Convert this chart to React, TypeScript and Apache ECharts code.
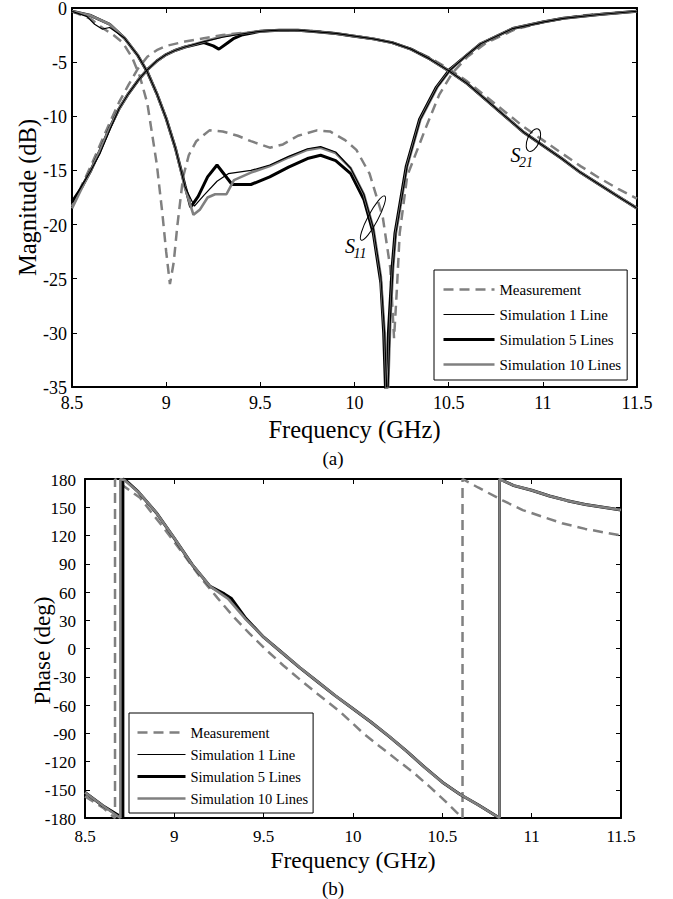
import React, { useEffect, useRef } from "react";
import * as echarts from "echarts";

const FONT = "Liberation Serif";
const GRAY = "#808080";

// ---- tick values ----
const freqTicks = [8.5, 9, 9.5, 10, 10.5, 11, 11.5];
const magTicks = [0, -5, -10, -15, -20, -25, -30, -35];
const phaseTicks = [180, 150, 120, 90, 60, 30, 0, -30, -60, -90, -120, -150, -180];

// ---- (a) Magnitude data: [GHz, dB] ----
const s11Meas = [[8.5,-0.3],[8.6,-1.0],[8.65,-1.7],[8.72,-2.5],[8.77,-3.2],[8.82,-4.6],[8.86,-6.3],[8.9,-8.8],[8.95,-14.4],[8.98,-19.0],[9.0,-22.5],[9.02,-25.5],[9.04,-23.5],[9.06,-20.0],[9.09,-15.6],[9.12,-13.6],[9.16,-12.3],[9.23,-11.3],[9.3,-11.4],[9.38,-11.8],[9.45,-12.3],[9.55,-12.9],[9.62,-12.6],[9.7,-11.8],[9.8,-11.3],[9.87,-11.4],[9.95,-12.2],[10.01,-13.1],[10.08,-15.3],[10.15,-19.3],[10.19,-24.0],[10.21,-30.5],[10.225,-26.0],[10.24,-20.8],[10.28,-15.5],[10.38,-11.0],[10.45,-8.0],[10.52,-6.0],[10.6,-4.5],[10.7,-3.2],[10.85,-2.0],[11.0,-1.3],[11.2,-0.7],[11.5,-0.3]];
const s11Sim1 = [[8.5,-0.3],[8.58,-0.8],[8.62,-1.5],[8.66,-1.95],[8.7,-1.8],[8.78,-2.8],[8.85,-4.4],[8.9,-5.9],[8.95,-7.9],[9.0,-10.2],[9.05,-13.0],[9.1,-16.5],[9.15,-18.3],[9.2,-17.3],[9.27,-16.0],[9.33,-15.3],[9.45,-15.0],[9.55,-14.5],[9.65,-13.7],[9.75,-13.0],[9.82,-12.8],[9.9,-13.3],[9.98,-14.8],[10.05,-17.2],[10.1,-20.3],[10.14,-24.8],[10.16,-30.0],[10.175,-37.0],[10.19,-29.0],[10.205,-24.0],[10.22,-20.8],[10.28,-14.6],[10.35,-10.3],[10.44,-7.3],[10.51,-5.7],[10.6,-4.3],[10.67,-3.3],[10.84,-1.9],[11.0,-1.3],[11.11,-0.95],[11.3,-0.6],[11.5,-0.3]];
const s11Sim5 = [[8.5,-0.3],[8.6,-0.7],[8.7,-1.5],[8.78,-2.8],[8.85,-4.4],[8.9,-5.9],[8.95,-7.9],[9.0,-10.2],[9.05,-13.0],[9.1,-16.4],[9.13,-18.4],[9.17,-17.4],[9.22,-15.6],[9.27,-14.5],[9.31,-15.4],[9.35,-16.3],[9.45,-16.3],[9.55,-15.6],[9.65,-14.7],[9.75,-13.9],[9.82,-13.6],[9.9,-14.1],[9.98,-15.3],[10.05,-17.7],[10.1,-20.8],[10.14,-25.4],[10.155,-30.0],[10.168,-37.0],[10.18,-30.0],[10.2,-23.9],[10.215,-20.8],[10.275,-14.6],[10.345,-10.3],[10.435,-7.3],[10.505,-5.7],[10.6,-4.3],[10.67,-3.3],[10.84,-1.9],[11.0,-1.3],[11.11,-0.95],[11.3,-0.6],[11.5,-0.3]];
const s11Sim10 = [[8.5,-0.3],[8.6,-0.7],[8.7,-1.5],[8.78,-2.8],[8.85,-4.4],[8.9,-5.9],[8.95,-7.9],[9.0,-10.2],[9.05,-13.0],[9.1,-16.6],[9.145,-19.1],[9.18,-18.6],[9.22,-17.5],[9.26,-17.2],[9.32,-17.2],[9.36,-15.9],[9.45,-15.2],[9.55,-14.6],[9.65,-13.8],[9.75,-13.1],[9.82,-12.9],[9.9,-13.4],[9.98,-14.8],[10.05,-17.2],[10.1,-20.3],[10.14,-24.8],[10.16,-30.0],[10.175,-37.0],[10.19,-29.0],[10.205,-24.0],[10.22,-20.8],[10.28,-14.6],[10.35,-10.3],[10.44,-7.3],[10.51,-5.7],[10.6,-4.3],[10.67,-3.3],[10.84,-1.9],[11.0,-1.3],[11.11,-0.95],[11.3,-0.6],[11.5,-0.3]];

const s21Meas = [[8.5,-18.3],[8.6,-14.6],[8.7,-10.6],[8.75,-8.7],[8.8,-7.1],[8.85,-5.6],[8.9,-4.5],[8.95,-3.9],[9.0,-3.5],[9.1,-3.1],[9.2,-2.8],[9.3,-2.5],[9.4,-2.3],[9.5,-2.15],[9.6,-2.05],[9.7,-2.05],[9.8,-2.15],[9.9,-2.35],[10.0,-2.6],[10.1,-2.85],[10.2,-3.2],[10.3,-3.8],[10.4,-4.6],[10.5,-5.6],[10.6,-6.8],[10.7,-8.2],[10.8,-9.6],[10.9,-11.0],[11.0,-12.2],[11.1,-13.4],[11.2,-14.6],[11.3,-15.7],[11.4,-16.7],[11.5,-17.6]];
const s21Sim1 = [[8.5,-18.0],[8.55,-16.5],[8.6,-15.0],[8.65,-13.4],[8.7,-11.3],[8.75,-9.3],[8.8,-7.9],[8.85,-6.7],[8.9,-5.7],[8.95,-4.9],[9.0,-4.3],[9.05,-3.9],[9.1,-3.6],[9.2,-3.1],[9.3,-2.7],[9.4,-2.4],[9.5,-2.15],[9.6,-2.05],[9.7,-2.05],[9.8,-2.2],[9.9,-2.35],[10.0,-2.6],[10.1,-2.85],[10.2,-3.2],[10.3,-3.8],[10.4,-4.7],[10.5,-5.8],[10.6,-7.0],[10.7,-8.5],[10.8,-10.0],[10.9,-11.5],[11.0,-12.7],[11.1,-13.9],[11.2,-15.2],[11.3,-16.3],[11.4,-17.4],[11.5,-18.5]];
const s21Sim5 = [[8.5,-17.9],[8.55,-16.6],[8.6,-15.0],[8.65,-13.1],[8.7,-11.1],[8.75,-9.3],[8.8,-7.9],[8.85,-6.7],[8.9,-5.7],[8.95,-4.9],[9.0,-4.3],[9.05,-3.9],[9.1,-3.6],[9.2,-3.2],[9.25,-3.5],[9.28,-3.8],[9.32,-3.3],[9.36,-2.8],[9.4,-2.5],[9.5,-2.15],[9.6,-2.05],[9.7,-2.05],[9.8,-2.2],[9.9,-2.35],[10.0,-2.6],[10.1,-2.85],[10.2,-3.2],[10.3,-3.8],[10.4,-4.7],[10.5,-5.8],[10.6,-7.0],[10.7,-8.5],[10.8,-10.0],[10.9,-11.5],[11.0,-12.7],[11.1,-13.9],[11.2,-15.2],[11.3,-16.3],[11.4,-17.4],[11.5,-18.5]];
const s21Sim10 = [[8.5,-18.5],[8.55,-16.7],[8.6,-15.0],[8.65,-13.1],[8.7,-11.1],[8.75,-9.3],[8.8,-7.9],[8.85,-6.7],[8.9,-5.7],[8.95,-4.9],[9.0,-4.3],[9.05,-3.9],[9.1,-3.6],[9.2,-3.1],[9.3,-2.6],[9.4,-2.35],[9.5,-2.15],[9.6,-2.05],[9.7,-2.05],[9.8,-2.2],[9.9,-2.35],[10.0,-2.6],[10.1,-2.85],[10.2,-3.2],[10.3,-3.8],[10.4,-4.7],[10.5,-5.8],[10.6,-7.0],[10.7,-8.5],[10.8,-10.0],[10.9,-11.5],[11.0,-12.7],[11.1,-13.9],[11.2,-15.2],[11.3,-16.3],[11.4,-17.4],[11.5,-18.5]];

// ---- (b) Phase data: [GHz, deg] ----
const phMeas = [[8.5,-157],[8.6,-169],[8.668,-180],[8.668,180],[8.72,172],[8.808,160],[8.92,133],[9.032,105],[9.144,76],[9.24,54],[9.33,34],[9.42,16],[9.517,-2],[9.61,-18],[9.703,-33],[9.8,-48],[9.927,-67],[10.057,-90],[10.15,-104],[10.244,-118],[10.34,-132],[10.43,-147],[10.51,-161],[10.58,-174],[10.613,-180],[10.613,180],[10.7,171],[10.84,157],[10.95,147],[11.06,140],[11.17,133],[11.3,127],[11.5,120]];
const phSim1 = [[8.5,-153],[8.6,-167],[8.705,-180],[8.705,180],[8.72,179],[8.8,166],[8.9,144],[9.0,117],[9.1,89],[9.2,66],[9.3,54],[9.4,32],[9.5,12],[9.6,-4],[9.7,-20],[9.8,-35],[9.9,-50],[10.0,-64],[10.1,-78],[10.2,-93],[10.3,-109],[10.4,-126],[10.5,-142],[10.6,-155],[10.7,-166],[10.82,-180],[10.82,180],[10.9,173],[11.0,168],[11.1,162],[11.2,157],[11.3,153],[11.4,150],[11.5,147]];
const phSim5 = [[8.5,-153],[8.6,-167],[8.712,-180],[8.712,180],[8.725,179],[8.8,166],[8.9,144],[9.0,117],[9.1,89],[9.2,66],[9.28,58],[9.32,53],[9.4,32],[9.5,12],[9.6,-4],[9.7,-20],[9.8,-35],[9.9,-50],[10.0,-64],[10.1,-78],[10.2,-93],[10.3,-109],[10.4,-126],[10.5,-142],[10.6,-155],[10.7,-166],[10.82,-180],[10.82,180],[10.9,173],[11.0,168],[11.1,162],[11.2,157],[11.3,153],[11.4,150],[11.5,147]];
const phSim10 = [[8.5,-153],[8.6,-167],[8.698,-180],[8.698,180],[8.72,179],[8.8,166],[8.9,144],[9.0,117],[9.1,89],[9.2,66],[9.3,53],[9.4,31],[9.5,12],[9.6,-4],[9.7,-20],[9.8,-35],[9.9,-50],[10.0,-64],[10.1,-78],[10.2,-93],[10.3,-109],[10.4,-126],[10.5,-142],[10.6,-155],[10.7,-166],[10.82,-180],[10.82,180],[10.9,173],[11.0,168],[11.1,162],[11.2,157],[11.3,153],[11.4,150],[11.5,147]];

const NAMES = ["Measurement", "Simulation 1 Line", "Simulation 5 Lines", "Simulation 10 Lines"];
const LINE: Record<string, any> = {
  "Measurement": { color: GRAY, width: 2.5, type: [10, 6] },
  "Simulation 1 Line": { color: "#000", width: 1.2, type: "solid" },
  "Simulation 5 Lines": { color: "#000", width: 3, type: "solid" },
  "Simulation 10 Lines": { color: GRAY, width: 2.6, type: "solid" },
};
const ZORD: Record<string, number> = { "Measurement": 1, "Simulation 1 Line": 2, "Simulation 5 Lines": 3, "Simulation 10 Lines": 4 };

function mk(name: string, data: number[][], ai: number, z?: number) {
  const ls = LINE[name];
  return {
    type: "line", name, data, xAxisIndex: ai, yAxisIndex: ai,
    symbol: "none", showSymbol: false, clip: true, z: z ?? ZORD[name],
    color: ls.color,
    lineStyle: { color: ls.color, width: ls.width, type: ls.type },
    itemStyle: { color: ls.color },
    emphasis: { disabled: true },
  };
}

function xAx(grid: number, pos: string) {
  return {
    type: "value", gridIndex: grid, position: pos, min: 8.5, max: 11.5, interval: 0.5,
    axisLine: { show: true, onZero: false, lineStyle: { color: "#000", width: 2 } },
    axisTick: { show: true, inside: true, length: 5, lineStyle: { color: "#000", width: 1 } },
    splitLine: { show: false },
    axisLabel: { show: false },
  };
}
function yAx(grid: number, pos: string, min: number, max: number, interval: number) {
  return {
    type: "value", gridIndex: grid, position: pos, min, max, interval,
    axisLine: { show: true, onZero: false, lineStyle: { color: "#000", width: 2 } },
    axisTick: { show: true, inside: true, length: 5, lineStyle: { color: "#000", width: 1 } },
    splitLine: { show: false },
    axisLabel: { show: false },
  };
}

function legendData() {
  return NAMES.map((n) => ({ name: n, itemStyle: { opacity: 0 }, lineStyle: { color: LINE[n].color, width: LINE[n].width, type: LINE[n].type } }));
}

// annotation anchors in data coordinates of plot (a)
const ANNOT = {
  s21Ellipse: [10.95, -12.2], s21S: [10.855, -13.62], s21Sub: [10.911, -14.25],
  s11Ellipse: [10.098, -19.4], s11S: [9.976, -21.98], s11Sub: [10.029, -22.65],
};

function T(x: number, y: number, text: string, size: number, align = "center", extra: any = {}) {
  return {
    type: "text", x, y, z: 100, silent: true, ...extra,
    style: { text, fontFamily: FONT, fontSize: size, fill: "#000", align, verticalAlign: "middle", ...(extra.style || {}) },
  };
}

export default function App() {
  const ref = useRef<HTMLDivElement>(null);
  useEffect(() => {
    document.body.style.margin = "0";
    const chart = echarts.init(ref.current!, null, { renderer: "svg" });
    chart.setOption({
      animation: false,
      backgroundColor: "#fff",
      textStyle: { fontFamily: FONT },
      grid: [
        { left: 72, top: 8, width: 565, height: 379 },
        { left: 85, top: 479, width: 536, height: 339 },
      ],
      xAxis: [xAx(0, "bottom"), xAx(0, "top"), xAx(1, "bottom"), xAx(1, "top")],
      yAxis: [
        yAx(0, "left", -35, 0, 5), yAx(0, "right", -35, 0, 5),
        yAx(1, "left", -180, 180, 30), yAx(1, "right", -180, 180, 30),
      ],
      legend: [
        {
          data: legendData(), orient: "vertical", left: 434, top: 270,
          itemWidth: 51, itemHeight: 14, itemGap: 10, padding: [12, 6, 8, 8],
          borderColor: "#000", borderWidth: 1, backgroundColor: "#fff", selectedMode: false,
          textStyle: { fontFamily: FONT, fontSize: 15, color: "#000" },
        },
        {
          data: legendData(), orient: "vertical", left: 129, top: 713,
          itemWidth: 48, itemHeight: 14, itemGap: 7, padding: [12, 5, 7, 7],
          borderColor: "#000", borderWidth: 1, backgroundColor: "#fff", selectedMode: false,
          textStyle: { fontFamily: FONT, fontSize: 14.5, color: "#000" },
        },
      ],
      series: [
        mk("Measurement", s11Meas, 0), mk("Measurement", s21Meas, 0),
        mk("Simulation 1 Line", s11Sim1, 0, 5), mk("Simulation 1 Line", s21Sim1, 0, 5),
        mk("Simulation 5 Lines", s11Sim5, 0), mk("Simulation 5 Lines", s21Sim5, 0),
        mk("Simulation 10 Lines", s11Sim10, 0), mk("Simulation 10 Lines", s21Sim10, 0),
        mk("Measurement", phMeas, 2),
        mk("Simulation 1 Line", phSim1, 2),
        mk("Simulation 5 Lines", phSim5, 2),
        mk("Simulation 10 Lines", phSim10, 2),
      ],
    });

    const PA = (v: number[]) => chart.convertToPixel({ xAxisIndex: 0, yAxisIndex: 0 } as any, v) as number[];
    const PB = (v: number[]) => chart.convertToPixel({ xAxisIndex: 2, yAxisIndex: 2 } as any, v) as number[];
    const gfx: any[] = [];

    // plot (a) tick labels and titles
    const aBottom = PA([8.5, -35])[1], aTop = PA([8.5, 0])[1], aLeft = PA([8.5, 0])[0], aRight = PA([11.5, 0])[0];
    freqTicks.forEach((f) => gfx.push(T(PA([f, -35])[0], aBottom + 16, String(f), 18)));
    magTicks.forEach((m) => gfx.push(T(aLeft - 5, PA([8.5, m])[1] + 1, String(m), 18, "right")));
    gfx.push(T((aLeft + aRight) / 2, aBottom + 42, "Frequency (GHz)", 24.5));
    gfx.push(T(aLeft - 45, (aTop + aBottom) / 2, "Magnitude (dB)", 24.5, "center", { rotation: Math.PI / 2 }));
    gfx.push(T(333, aBottom + 71, "(a)", 19));

    // plot (b)
    const bBottom = PB([8.5, -180])[1], bTop = PB([8.5, 180])[1], bLeft = PB([8.5, 0])[0], bRight = PB([11.5, 0])[0];
    freqTicks.forEach((f) => gfx.push(T(PB([f, -180])[0], bBottom + 18, String(f), 17)));
    phaseTicks.forEach((p) => gfx.push(T(bLeft - 9, PB([8.5, p])[1] + 1, String(p), 17, "right")));
    gfx.push(T((bLeft + bRight) / 2, bBottom + 42, "Frequency (GHz)", 23.5));
    gfx.push(T(bLeft - 43, (bTop + bBottom) / 2 + 2, "Phase (deg)", 23, "center", { rotation: Math.PI / 2 }));
    gfx.push(T(333, bBottom + 70, "(b)", 19));

    // S-parameter annotations
    const e21 = PA(ANNOT.s21Ellipse), t21 = PA(ANNOT.s21S), u21 = PA(ANNOT.s21Sub);
    const e11 = PA(ANNOT.s11Ellipse), t11 = PA(ANNOT.s11S), u11 = PA(ANNOT.s11Sub);
    gfx.push({ type: "ellipse", x: e21[0], y: e21[1], rotation: -0.4, z: 100, shape: { cx: 0, cy: 0, rx: 6, ry: 12 }, style: { fill: "none", stroke: "#000", lineWidth: 1 } });
    gfx.push({ type: "ellipse", x: e11[0], y: e11[1], rotation: -0.49, z: 100, shape: { cx: 0, cy: 0, rx: 5, ry: 25 }, style: { fill: "none", stroke: "#000", lineWidth: 1 } });
    const it = { style: { fontStyle: "italic" } };
    gfx.push(T(t21[0], t21[1], "S", 20, "center", it), T(u21[0], u21[1], "21", 14, "center", it));
    gfx.push(T(t11[0], t11[1], "S", 20, "center", it), T(u11[0], u11[1], "11", 14, "center", it));

    chart.setOption({ graphic: gfx });
    return () => chart.dispose();
  }, []);
  return <div ref={ref} style={{ width: 673, height: 899 }} />;
}
